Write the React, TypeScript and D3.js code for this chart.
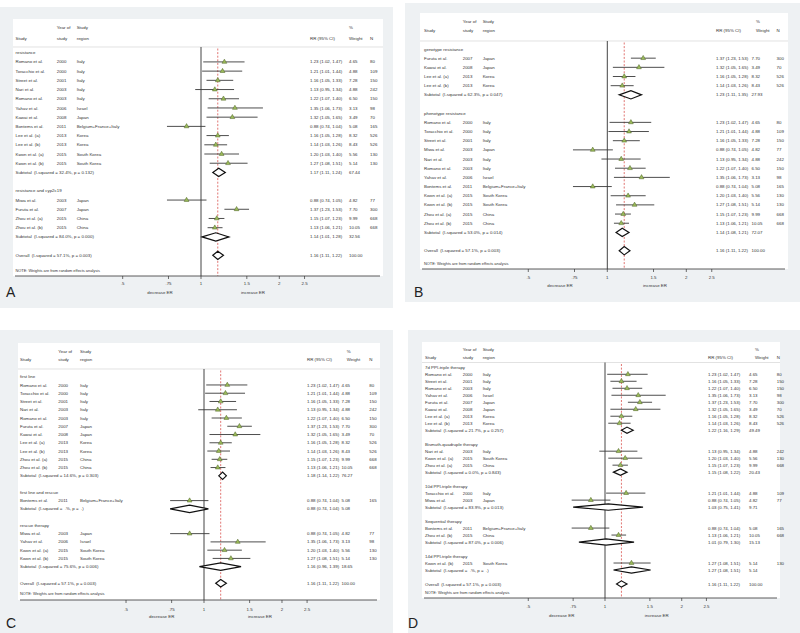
import React from "react";
import * as d3 from "d3";

// study-level results (RR with 95% CI, % weight, sample size)
const studies = [
  { id: "rom00", name: "Romano et al.", year: "2000", region: "Italy", rr: 1.23, lo: 1.02, hi: 1.47, w: 4.65, n: 80 },
  { id: "tor00", name: "Toracchio et al.", year: "2000", region: "Italy", rr: 1.21, lo: 1.01, hi: 1.44, w: 4.88, n: 109 },
  { id: "str01", name: "Street et al.", year: "2001", region: "Italy", rr: 1.16, lo: 1.05, hi: 1.33, w: 7.28, n: 150 },
  { id: "nar03", name: "Nari et al.", year: "2003", region: "Italy", rr: 1.13, lo: 0.95, hi: 1.34, w: 4.88, n: 242 },
  { id: "rom03", name: "Romano et al.", year: "2003", region: "Italy", rr: 1.22, lo: 1.07, hi: 1.4, w: 6.5, n: 150 },
  { id: "yah06", name: "Yahav et al.", year: "2006", region: "Israel", rr: 1.35, lo: 1.06, hi: 1.73, w: 3.13, n: 98 },
  { id: "kaw08", name: "Kawai et al.", year: "2008", region: "Japan", rr: 1.32, lo: 1.05, hi: 1.65, w: 3.49, n: 70 },
  { id: "bon11", name: "Bontems et al.", year: "2011", region: "Belgium+France+Italy", rr: 0.88, lo: 0.74, hi: 1.04, w: 5.08, n: 165 },
  { id: "leea", name: "Lee et al. (a)", year: "2013", region: "Korea", rr: 1.16, lo: 1.05, hi: 1.28, w: 8.32, n: 526 },
  { id: "leeb", name: "Lee et al. (b)", year: "2013", region: "Korea", rr: 1.14, lo: 1.03, hi: 1.26, w: 8.43, n: 526 },
  { id: "kwoa", name: "Kwon et al. (a)", year: "2015", region: "South Korea", rr: 1.2, lo: 1.03, hi: 1.4, w: 5.56, n: 130 },
  { id: "kwob", name: "Kwon et al. (b)", year: "2015", region: "South Korea", rr: 1.27, lo: 1.08, hi: 1.51, w: 5.14, n: 130 },
  { id: "miw03", name: "Miwa et al.", year: "2003", region: "Japan", rr: 0.88, lo: 0.74, hi: 1.05, w: 4.82, n: 77 },
  { id: "fur07", name: "Furuta et al.", year: "2007", region: "Japan", rr: 1.37, lo: 1.23, hi: 1.53, w: 7.7, n: 300 },
  { id: "zhoa", name: "Zhou et al. (a)", year: "2015", region: "China", rr: 1.15, lo: 1.07, hi: 1.23, w: 9.99, n: 668 },
  { id: "zhob", name: "Zhou et al. (b)", year: "2015", region: "China", rr: 1.13, lo: 1.06, hi: 1.21, w: 10.05, n: 668 },
];

const groupsA = [
  { label: "resistance", ids: ["rom00", "tor00", "str01", "nar03", "rom03", "yah06", "kaw08", "bon11", "leea", "leeb", "kwoa", "kwob"], i2: "32.4%", p: "0.132", rr: 1.17, lo: 1.11, hi: 1.24, w: 67.44 },
  { label: "resistance and cyp2c19", ids: ["miw03", "fur07", "zhoa", "zhob"], i2: "84.0%", p: "0.000", rr: 1.14, lo: 1.01, hi: 1.28, w: 32.56 },
];

const groupsB = [
  { label: "genotype resistance", ids: ["fur07", "kaw08", "leea", "leeb"], i2: "62.3%", p: "0.047", rr: 1.23, lo: 1.11, hi: 1.35, w: 27.93 },
  { label: "phenotype resistance", ids: ["rom00", "tor00", "str01", "miw03", "nar03", "rom03", "yah06", "bon11", "kwoa", "kwob", "zhoa", "zhob"], i2: "53.0%", p: "0.014", rr: 1.14, lo: 1.08, hi: 1.21, w: 72.07 },
];

const groupsC = [
  { label: "first line", ids: ["rom00", "tor00", "str01", "nar03", "rom03", "fur07", "kaw08", "leea", "leeb", "zhoa", "zhob"], i2: "14.6%", p: "0.303", rr: 1.18, lo: 1.14, hi: 1.22, w: 76.27 },
  { label: "first line and rescue", ids: ["bon11"], i2: ".", p: ".", rr: 0.88, lo: 0.74, hi: 1.04, w: 5.08 },
  { label: "rescue therapy", ids: ["miw03", "yah06", "kwoa", "kwob"], i2: "75.6%", p: "0.006", rr: 1.16, lo: 0.96, hi: 1.39, w: 18.65 },
];

const groupsD = [
  { label: "7d PPI-triple therapy", ids: ["rom00", "str01", "rom03", "yah06", "fur07", "kaw08", "leea", "leeb"], i2: "21.7%", p: "0.257", rr: 1.22, lo: 1.16, hi: 1.29, w: 49.49 },
  { label: "Bismuth-quadruple therapy", ids: ["nar03", "kwoa", "zhoa"], i2: "0.0%", p: "0.843", rr: 1.15, lo: 1.08, hi: 1.22, w: 20.43 },
  { label: "10d PPI-triple therapy", ids: ["tor00", "miw03"], i2: "83.9%", p: "0.013", rr: 1.03, lo: 0.75, hi: 1.41, w: 9.71 },
  { label: "Sequential therapy", ids: ["bon11", "zhob"], i2: "87.0%", p: "0.006", rr: 1.01, lo: 0.79, hi: 1.3, w: 15.13 },
  { label: "14d PPI-triple therapy", ids: ["kwob"], i2: ".", p: ".", rr: 1.27, lo: 1.08, hi: 1.51, w: 5.14 },
];

const overall = { i2: "57.1%", p: "0.003", rr: 1.16, lo: 1.11, hi: 1.22, w: 100.0 };

const ticks = [0.5, 0.75, 1, 1.5, 2, 2.5];
const tickLabels = [".5", ".75", "1", "1.5", "2", "2.5"];
const axisLabels = ["decrease ER", "increase ER"];
const note = "NOTE: Weights are from random effects analysis";

// placement of each stata panel inside the 800x633 figure
const layouts = [
  { letter: "A", gray: [0, 7, 393, 301], white: [13, 19, 370, 257], h1: 27.3, h2: 38.5, sep: 47, row0: 52.7, step: 9.21, x1: 201, k: 113, nameX: 15.5, yearX: 56.7, regionX: 76.7, rrX: 310, wX: 349, wHX: 349, nX: 370, noteY: 270.7, tickY: 283, erY: 292, erX: [160, 253], letterXY: [6, 297] },
  { letter: "B", gray: [405, 3, 395, 299], white: [420, 13, 368, 256], h1: 21.7, h2: 30.7, sep: 41, row0: 49, step: 9.17, x1: 607.3, k: 114, nameX: 424, yearX: 462.7, regionX: 482.7, rrX: 716, wX: 751.5, wHX: 756, nX: 776.5, noteY: 264, tickY: 277.7, erY: 285.7, erX: [560, 655], letterXY: [414, 297] },
  { letter: "C", gray: [0, 330, 393, 303], white: [18, 343, 362, 257], h1: 351.7, h2: 359.3, sep: 369, row0: 376.7, step: 8.26, x1: 204, k: 112.5, nameX: 20, yearX: 58.3, regionX: 80, rrX: 307, wX: 341.5, wHX: 346.7, nX: 369.3, noteY: 593.3, tickY: 609, erY: 616.7, erX: [161.7, 260], letterXY: [6, 628] },
  { letter: "D", gray: [408, 330, 392, 303], white: [422, 342, 358, 256], h1: 349.5, h2: 357, sep: 362.5, row0: 367.3, step: 6.99, x1: 605, k: 110.7, nameX: 425, yearX: 462.7, regionX: 482.7, rrX: 708, wX: 749, wHX: 755, nX: 776.7, noteY: 592.7, tickY: 606.7, erY: 615.7, erX: [561.7, 656.7], letterXY: [408, 628] },
];

const panels = [groupsA, groupsB, groupsC, groupsD];

const byId = new Map(studies.map((s) => [s.id, s]));
const fmt = (v: number) => v.toFixed(2);
const ci = (d: any) => `${fmt(d.rr)} (${fmt(d.lo)}, ${fmt(d.hi)})`;
const het = (g: any) => (g.i2 === "." ? "(I-squared =  .%, p =  .)" : `(I-squared = ${g.i2}, p = ${g.p})`);

const FS = 4.4;
const TXT = "#333";
const triangle = d3.symbol().type(d3.symbolTriangle).size(10)();

function ForestPanel({ groups, L }: { groups: any[]; L: any }) {
  const x = d3
    .scaleLog()
    .domain([0.5, 2.5])
    .range([L.x1 + L.k * Math.log(0.5), L.x1 + L.k * Math.log(2.5)]);

  const rows: any[] = [];
  groups.forEach((g, gi) => {
    if (gi > 0) rows.push({ kind: "blank" });
    rows.push({ kind: "label", text: g.label });
    g.ids.forEach((id: string) => rows.push({ kind: "study", d: byId.get(id) }));
    rows.push({ kind: "sub", d: g });
  });
  rows.push({ kind: "blank" });
  rows.push({ kind: "overall", d: overall });

  const y = (i: number) => L.row0 + i * L.step;
  const axisY = L.white[1] + L.white[3];
  const dh = L.step * 0.45;

  const txt = (tx: number, ty: number, s: string, extra: any = {}) => (
    <text x={tx} y={ty} dy="0.35em" fontSize={FS} fill={TXT} {...extra}>
      {s}
    </text>
  );

  return (
    <g>
      <rect x={L.gray[0]} y={L.gray[1]} width={L.gray[2]} height={L.gray[3]} fill="#eef1f3" />
      <rect x={L.white[0]} y={L.white[1]} width={L.white[2]} height={L.white[3]} fill="#fff" />

      {/* header */}
      {txt(L.yearX, L.h1, "Year of")}
      {txt(L.regionX, L.h1, "Study")}
      {txt(L.wHX, L.h1, "%")}
      {txt(L.nameX, L.h2, "Study")}
      {txt(L.yearX, L.h2, "study")}
      {txt(L.regionX, L.h2, "region")}
      {txt(L.rrX, L.h2, "RR (95% CI)")}
      {txt(L.wHX, L.h2, "Weight")}
      {txt(L.nX, L.h2, "N")}
      <line x1={L.white[0]} x2={L.white[0] + L.white[2]} y1={L.sep} y2={L.sep} stroke="#d6d6d6" strokeWidth={0.7} />

      {/* reference lines */}
      <line x1={x(1)} x2={x(1)} y1={L.sep} y2={axisY} stroke="#444" strokeWidth={1} />
      <line x1={x(overall.rr)} x2={x(overall.rr)} y1={L.sep + 1.5} y2={axisY} stroke="#d9534f" strokeWidth={0.8} strokeDasharray="2,1.6" />

      {rows.map((r, i) => {
        const ry = y(i);
        if (r.kind === "blank") return null;
        if (r.kind === "label") return <g key={i}>{txt(L.nameX, ry, r.text)}</g>;
        if (r.kind === "study") {
          const d = r.d;
          return (
            <g key={i}>
              {txt(L.nameX, ry, d.name)}
              {txt(L.yearX, ry, d.year)}
              {txt(L.regionX, ry, d.region)}
              {txt(L.rrX, ry, ci(d))}
              {txt(L.wX, ry, fmt(d.w))}
              {txt(L.nX, ry, String(d.n))}
              <line x1={x(d.lo)} x2={x(d.hi)} y1={ry} y2={ry} stroke="#3a3a3a" strokeWidth={0.9} />
              <path d={triangle as string} transform={`translate(${x(d.rr)},${ry})`} fill="#9bbb59" stroke="#4f6228" strokeWidth={0.5} />
            </g>
          );
        }
        const d = r.d;
        const lab = r.kind === "sub" ? "Subtotal" : "Overall";
        return (
          <g key={i}>
            {txt(L.nameX, ry, `${lab}  ${het(d)}`, { xmlSpace: "preserve" })}
            {txt(L.rrX, ry, ci(d))}
            {txt(L.wX, ry, fmt(d.w))}
            <path
              d={`M${x(d.lo)},${ry}L${x(d.rr)},${ry - dh}L${x(d.hi)},${ry}L${x(d.rr)},${ry + dh}Z`}
              fill="#fff"
              stroke="#111"
              strokeWidth={1.2}
            />
          </g>
        );
      })}

      {txt(L.nameX, L.noteY, note, { fontSize: 3.9 })}

      {/* axis */}
      <line x1={L.white[0] + 2} x2={L.white[0] + L.white[2] - 3} y1={axisY} y2={axisY} stroke="#333" strokeWidth={0.8} />
      {ticks.map((t, i) => (
        <g key={t}>
          <line x1={x(t)} x2={x(t)} y1={axisY} y2={axisY + 3} stroke="#333" strokeWidth={0.7} />
          <text x={x(t)} y={L.tickY} dy="0.35em" fontSize={FS} fill={TXT} textAnchor="middle">
            {tickLabels[i]}
          </text>
        </g>
      ))}
      {axisLabels.map((s, i) => (
        <text key={s} x={L.erX[i]} y={L.erY} dy="0.35em" fontSize={FS} fill={TXT} textAnchor="middle">
          {s}
        </text>
      ))}

      <text x={L.letterXY[0]} y={L.letterXY[1]} fontSize={14} fill="#222">
        {L.letter}
      </text>
    </g>
  );
}

export default function App() {
  return (
    <svg
      width={800}
      height={633}
      style={{ position: "absolute", left: 0, top: 0 }}
      fontFamily="'Liberation Sans', Arial, sans-serif"
    >
      <rect width={800} height={633} fill="#fff" />
      {panels.map((g, i) => (
        <ForestPanel key={i} groups={g} L={layouts[i]} />
      ))}
    </svg>
  );
}
